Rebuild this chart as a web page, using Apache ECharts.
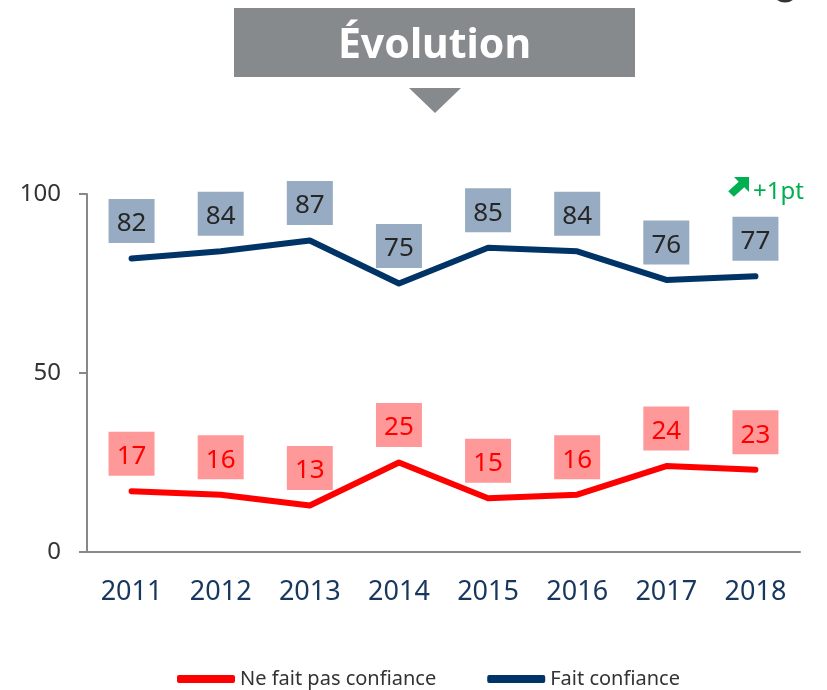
<!DOCTYPE html>
<html>
<head>
<meta charset="utf-8">
<script src="https://cdn.jsdelivr.net/npm/echarts@6/dist/echarts.min.js"></script>
<style>
html,body{margin:0;padding:0;background:#fff;}
#chart{width:827px;height:690px;}
</style>
</head>
<body>
<div id="chart"></div>
<script>
const years = ['2011','2012','2013','2014','2015','2016','2017','2018'];
const distrust = [17,16,13,25,15,16,24,23];
const trust = [82,84,87,75,85,84,76,77];
const yTicks = [0,50,100];
const seriesNames = ['Ne fait pas confiance','Fait confiance'];

const FONT = 'Noto Sans';
const chart = echarts.init(document.getElementById('chart'), null, {renderer:'canvas'});

function labelStyle(bg, fg){
  return {
    show: true,
    position: 'top',
    distance: 15,
    backgroundColor: bg,
    color: fg,
    fontFamily: FONT,
    fontSize: 26,
    lineHeight: 26,
    padding: [12, 8, 6, 8],
    width: 30,
    align: 'center'
  };
}

chart.setOption({
  animation: false,
  color: ['#ff0000', '#003366'],
  grid: {left: 87, right: 27, top: 194, bottom: 138, containLabel: false},
  xAxis: {
    type: 'category',
    data: years,
    boundaryGap: true,
    axisLine: {lineStyle: {color: '#888888', width: 2}},
    axisTick: {show: false},
    axisLabel: {color: '#17375e', fontSize: 27, fontFamily: FONT, margin: 27}
  },
  yAxis: {
    type: 'value',
    min: yTicks[0], max: yTicks[yTicks.length-1], interval: 50,
    axisLine: {show: true, lineStyle: {color: '#888888', width: 2}},
    axisTick: {show: true, length: 8, lineStyle: {color: '#888888', width: 2}},
    splitLine: {show: false},
    axisLabel: {color: '#333333', fontSize: 24, fontFamily: FONT, margin: 26}
  },
  legend: {
    data: seriesNames,
    left: 172,
    top: 664,
    icon: 'roundRect',
    itemWidth: 58,
    itemHeight: 8,
    itemGap: 51,
    textStyle: {color: '#333333', fontSize: 20, fontFamily: FONT}
  },
  series: [
    {
      name: seriesNames[0],
      type: 'line',
      data: distrust,
      symbol: 'circle',
      symbolSize: 1,
      lineStyle: {width: 6, cap: 'round', join: 'round', color: '#ff0000'},
      itemStyle: {color: '#ff0000'},
      label: labelStyle('#ff9999', '#ff0000')
    },
    {
      name: seriesNames[1],
      type: 'line',
      data: trust,
      symbol: 'circle',
      symbolSize: 1,
      lineStyle: {width: 6, cap: 'round', join: 'round', color: '#003366'},
      itemStyle: {color: '#003366'},
      label: labelStyle('#97abc2', '#262626')
    }
  ],
  graphic: [
    {type: 'rect', shape: {x: 234, y: 8, width: 401, height: 69}, style: {fill: '#878a8d'}},
    {type: 'text', x: 434.5, y: 46, style: {text: 'Évolution', fill: '#ffffff', font: 'bold 41px "Noto Sans"', textAlign: 'center', textVerticalAlign: 'middle'}},
    {type: 'polygon', shape: {points: [[409,88],[461,88],[435,113]]}, style: {fill: '#878a8d'}},
    {type: 'polygon', shape: {points: [[734,177],[749,177],[749,192],[744.3,187.3],[733.8,196.8],[728.2,191.2],[738.7,181.7]]}, style: {fill: '#00b050'}},
    {type: 'text', x: 753, y: 192, style: {text: '+1pt', fill: '#00b050', font: '24px "Noto Sans"', textAlign: 'left', textVerticalAlign: 'middle'}},
    {type: 'circle', shape: {cx: 785, cy: -11, r: 12}, style: {fill: 'none', stroke: '#333333', lineWidth: 3}}
  ]
});
</script>
</body>
</html>
